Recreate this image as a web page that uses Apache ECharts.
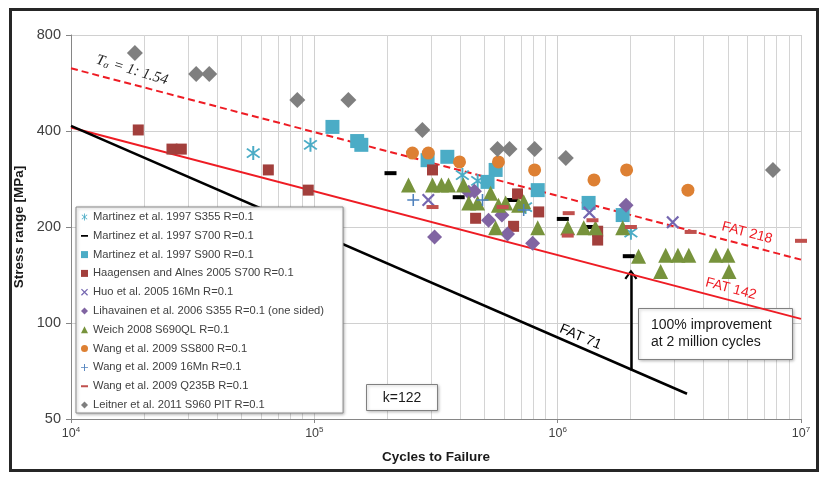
<!DOCTYPE html>
<html><head><meta charset="utf-8">
<script src="https://cdn.jsdelivr.net/npm/echarts@6/dist/echarts.min.js"></script>
<style>html,body{margin:0;padding:0;background:#fff}#c{width:821px;height:477px}</style>
</head><body><div id="c"></div>
<script>
// ---------- data (cycles, stress range MPa) ----------
const seriesNames = [
  'Martinez et al. 1997 S355 R=0.1',
  'Martinez et al. 1997 S700 R=0.1',
  'Martinez et al. 1997 S900 R=0.1',
  'Haagensen and Alnes 2005 S700 R=0.1',
  'Huo et al. 2005 16Mn R=0.1',
  'Lihavainen et al. 2006 S355 R=0.1 (one sided)',
  'Weich 2008 S690QL R=0.1',
  'Wang et al. 2009 SS800 R=0.1',
  'Wang et al. 2009 16Mn R=0.1',
  'Wang et al. 2009 Q235B R=0.1',
  'Leitner et al. 2011 S960 PIT R=0.1'
];
const martinezS355 = [[56100,341],[96400,362],[406000,291],[469000,279],[738000,231],[2.0e6,192]];
const martinezS700 = [[205600,295],[392000,248],[653000,243],[1.05e6,212],[1.36e6,200],[1.96e6,162]];
const martinezS900 = [[118700,412],[150000,372],[156000,362],[292000,324],[352000,332],[556000,302],[515000,277],[828000,261],[1.34e6,238],[1.85e6,218]];
const haagensen = [[18900,403],[26000,351],[28400,351],[64700,302],[94400,261],[306000,302],[684000,254],[460000,213],[659000,201],[836000,223],[1.46e6,194],[1.46e6,182]];
const huo = [[294000,243],[1.35e6,222],[2.97e6,207]];
const lihavainen = [[312000,186],[431000,257],[455000,259],[520000,210],[590000,218],[622000,190],[789000,178],[1.91e6,234]];
const weich = [[243800,271],[306000,271],[333000,271],[356000,271],[410000,271],[431000,238],[469000,238],[530000,255],[571000,234],[611000,238],[691000,234],[725000,240],[556000,199],[828000,199],[1.10e6,199],[1.28e6,199],[1.43e6,199],[1.85e6,199],[2.15e6,162],[2.78e6,163],[3.12e6,163],[3.46e6,163],[4.47e6,163],[5.01e6,163],[2.65e6,145],[5.06e6,145]];
const wangSS800 = [[253000,341],[294000,341],[395000,320],[571000,320],[804000,302],[1.41e6,281],[1.92e6,302],[3.43e6,261]];
const wang16Mn = [[255000,243],[491000,243],[725000,226]];
const wangQ235B = [[306000,231],[594000,231],[1.11e6,221],[1.10e6,188],[1.39e6,210],[2.0e6,200],[3.52e6,193],[1.0e7,181]];
const leitner = [[18300,702],[32700,604],[37000,604],[85100,500],[138000,500],[278000,403],[566000,351],[634000,351],[804000,351],[1.08e6,329],[7.67e6,302]];
// design curves (read end points)
const fat218 = [[1e4,629],[1e7,158]];
const fat142 = [[1e4,410],[1e7,103]];
const fat71  = [[1e4,415],[3.4e6,60]];
const improvementArrow = [[2e6,71],[2e6,142]];
// axis ticks
const xExponents = [4,5,6,7];
const yTickLabels = [50,100,200,400,800];

// ---------- helpers ----------
const X = v => Math.log10(v);
const Y = v => Math.log2(v / 50);
const pts = a => a.map(([c, s]) => [X(c), Y(s)]);
const bar = (deg, L, W) => {
  const a = deg * Math.PI / 180, c = Math.cos(a), s = Math.sin(a);
  return 'M' + [[-L,-W],[L,-W],[L,W],[-L,W]].map(([x,y]) => (x*c - y*s).toFixed(3) + ' ' + (x*s + y*c).toFixed(3)).join(' L') + ' Z ';
};
const ASTER = 'path://' + bar(90,5,0.6) + bar(40,5,0.6) + bar(-40,5,0.6);
const XMARK = 'path://' + bar(45,5,0.7) + bar(-45,5,0.7);
const PLUS = 'path://' + bar(0,5,0.65) + bar(90,5,0.65);
const DASHICON = 'path://M0 3.8 L10 3.8 L10 6.4 L0 6.4 Z M0 0 L0.01 0 L0 0.01 Z M10 10 L9.99 10 L10 9.99 Z';

const specs = [
  {d: martinezS355, c: '#4bacc6', sym: ASTER, size: 14, icon: ASTER},
  {d: martinezS700, c: '#000000', sym: 'rect', size: [12,4], icon: DASHICON},
  {d: martinezS900, c: '#4bacc6', sym: 'rect', size: 14, icon: 'rect'},
  {d: haagensen, c: '#a23f3c', sym: 'rect', size: 11, icon: 'rect'},
  {d: huo, c: '#7466b0', sym: XMARK, size: 13, icon: XMARK},
  {d: lihavainen, c: '#8064a2', sym: 'diamond', size: 15, icon: 'diamond'},
  {d: weich, c: '#77933c', sym: 'triangle', size: 15, icon: 'triangle'},
  {d: wangSS800, c: '#dd8033', sym: 'circle', size: 13, icon: 'circle'},
  {d: wang16Mn, c: '#4f81bd', sym: PLUS, size: 12, icon: PLUS},
  {d: wangQ235B, c: '#c0504d', sym: 'rect', size: [12,4], icon: DASHICON},
  {d: leitner, c: '#7f7f7f', sym: 'diamond', size: 16, icon: 'diamond'}
];

const minorCycles = [];
[4,5,6].forEach(n => { for (let k = 2; k <= 9; k++) minorCycles.push(k * Math.pow(10, n)); });

const RED = '#ee1c24';
const FONT = 'Liberation Sans, Arial, sans-serif';

const series = [];
series.push({
  type: 'line', z: 0.5, silent: true, data: [[4, 0]], showSymbol: false, symbol: 'none',
  lineStyle: {opacity: 0},
  markLine: {z: 0.5, silent: true, symbol: ['none','none'], animation: false, label: {show: false},
    lineStyle: {color: '#d4d4d4', width: 1, type: 'solid'},
    data: minorCycles.map(v => ({xAxis: X(v)}))}
});
series.push({type: 'line', z: 2, silent: true, data: pts(fat218), showSymbol: false, symbol: 'none',
  lineStyle: {color: RED, width: 2, type: [7,4]}});
series.push({type: 'line', z: 2, silent: true, data: pts(fat142), showSymbol: false, symbol: 'none',
  lineStyle: {color: RED, width: 2}});
series.push({type: 'line', z: 2, silent: true, data: pts(fat71), showSymbol: false, symbol: 'none',
  lineStyle: {color: '#000', width: 2.5}});
series.push({type: 'line', z: 2, silent: true, data: [],
  markLine: {z: 2, silent: true, animation: false, symbol: ['none', 'path://M5 0 L10 9 L8.6 10.2 L5 3.3 L1.4 10.2 L0 9 Z'], symbolSize: [13, 10],
    label: {show: false}, lineStyle: {color: '#000', width: 2.5, type: 'solid'},
    data: [[{coord: [X(improvementArrow[0][0]), Y(improvementArrow[0][1])]}, {coord: [X(improvementArrow[1][0]), Y(improvementArrow[1][1])]}]]}
});
specs.forEach((s, i) => {
  series.push({
    name: seriesNames[i], type: 'scatter', z: 3, data: pts(s.d),
    symbol: s.sym, symbolSize: s.size,
    itemStyle: {color: s.c, opacity: 1}
  });
});

const chart = echarts.init(document.getElementById('c'), null, {renderer: 'canvas'});
chart.setOption({
  animation: false,
  backgroundColor: '#fff',
  grid: {left: 71, right: 20, top: 35, bottom: 58, containLabel: false, outerBoundsMode: 'none'},
  xAxis: {
    type: 'value', min: 4, max: 7, interval: 1,
    axisLine: {show: true, lineStyle: {color: '#868686'}},
    axisTick: {show: true, length: 4, lineStyle: {color: '#868686'}},
    splitLine: {show: true, lineStyle: {color: '#d0d0d0'}},
    axisLabel: {margin: 7, formatter: v => '{b|10}{s|' + v + '}',
      rich: {b: {fontSize: 12.5, color: '#404040', fontFamily: FONT},
             s: {fontSize: 8, color: '#404040', fontFamily: FONT, padding: [0,0,7,0]}}},
    name: 'Cycles to Failure', nameLocation: 'middle', nameGap: 31,
    nameTextStyle: {fontWeight: 'bold', fontSize: 13.5, color: '#1a1a1a', fontFamily: FONT}
  },
  yAxis: {
    type: 'value', min: 0, max: 4, interval: 1,
    axisLine: {show: true, lineStyle: {color: '#868686'}},
    axisTick: {show: true, length: 5, lineStyle: {color: '#868686'}},
    splitLine: {show: true, lineStyle: {color: '#d0d0d0'}},
    axisLabel: {margin: 10, fontSize: 14.5, color: '#404040', fontFamily: FONT,
      formatter: v => String(yTickLabels[Math.round(v)] !== undefined ? yTickLabels[Math.round(v)] : '')},
    name: 'Stress range [MPa]', nameLocation: 'middle', nameGap: 39, nameRotate: 90,
    nameTextStyle: {fontWeight: 'bold', fontSize: 13.5, color: '#1a1a1a', fontFamily: FONT}
  },
  legend: {
    orient: 'vertical', left: 76, top: 207, selectedMode: false,
    itemWidth: 7, itemHeight: 7, itemGap: 4.8, padding: [3, 19, 1, 5],
    backgroundColor: '#fff', borderColor: '#8c8c8c', borderWidth: 1,
    shadowBlur: 3, shadowColor: 'rgba(0,0,0,0.3)', shadowOffsetX: 1, shadowOffsetY: 1,
    textStyle: {fontSize: 11.2, lineHeight: 14, color: '#404040', fontFamily: FONT},
    data: seriesNames.map((n, i) => ({name: n, icon: specs[i].icon}))
  },
  series: series
});

// ---------- annotations anchored in data coordinates ----------
const P = (c, s) => chart.convertToPixel({gridIndex: 0}, [X(c), Y(s)]);
const pFat218 = P(6.0e6, 191.6), pFat142 = P(5.15e6, 127.9), pFat71 = P(1.24e6, 90.4), pT = P(17800, 621);
const graphics = [
  {type: 'rect', z: 100, silent: true, shape: {x: 10.5, y: 9.5, width: 807, height: 461}, style: {fill: 'none', stroke: '#262626', lineWidth: 3}},
  {type: 'text', z: 10, x: pFat218[0], y: pFat218[1], rotation: -0.26,
    style: {text: 'FAT 218', fill: RED, font: '14px ' + FONT, align: 'center', verticalAlign: 'middle'}},
  {type: 'text', z: 10, x: pFat142[0], y: pFat142[1], rotation: -0.26,
    style: {text: 'FAT 142', fill: RED, font: '14px ' + FONT, align: 'center', verticalAlign: 'middle'}},
  {type: 'text', z: 10, x: pFat71[0], y: pFat71[1], rotation: -0.41,
    style: {text: 'FAT 71', fill: '#000', font: '14px ' + FONT, align: 'center', verticalAlign: 'middle'}},
  {type: 'text', z: 10, x: pT[0], y: pT[1], rotation: -0.29,
    style: {text: '{t|T}{sub|σ}{t| = 1: 1.54}', align: 'center', verticalAlign: 'middle',
      rich: {t: {fontFamily: 'Liberation Serif, DejaVu Serif, serif', fontStyle: 'italic', fontSize: 15, fill: '#222'},
             sub: {fontFamily: 'Liberation Serif, DejaVu Serif, serif', fontStyle: 'italic', fontSize: 10, fill: '#222', padding: [6,1,0,0]}}}},
  {type: 'rect', z: 1, silent: true, shape: {x: 638.5, y: 308.5, width: 154, height: 51},
    style: {fill: '#fff', stroke: '#808080', lineWidth: 1, shadowBlur: 3, shadowColor: 'rgba(0,0,0,0.25)', shadowOffsetX: 1, shadowOffsetY: 1}},
  {type: 'text', z: 1.1, x: 651, y: 334,
    style: {text: '100% improvement\nat 2 million cycles', fill: '#1a1a1a', font: '14px ' + FONT, lineHeight: 17, align: 'left', verticalAlign: 'middle'}},
  {type: 'rect', z: 1, silent: true, shape: {x: 366.5, y: 384.5, width: 71, height: 26},
    style: {fill: '#fff', stroke: '#808080', lineWidth: 1, shadowBlur: 3, shadowColor: 'rgba(0,0,0,0.25)', shadowOffsetX: 1, shadowOffsetY: 1}},
  {type: 'text', z: 1.1, x: 402, y: 398,
    style: {text: 'k=122', fill: '#1a1a1a', font: '14px ' + FONT, align: 'center', verticalAlign: 'middle'}}
];
chart.setOption({graphic: graphics});
</script></body></html>
